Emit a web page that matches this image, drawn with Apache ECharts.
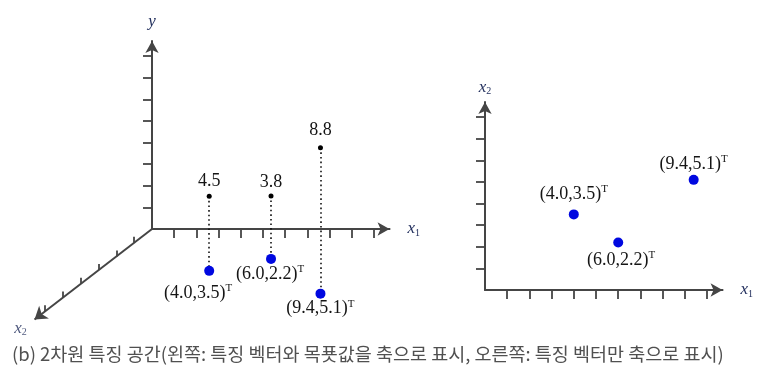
<!DOCTYPE html>
<html>
<head>
<meta charset="utf-8">
<script src="https://cdn.jsdelivr.net/npm/echarts@6/dist/echarts.min.js"></script>
<style>
  html, body { margin: 0; padding: 0; background: #fff; }
  #chart { width: 760px; height: 378px; }
</style>
</head>
<body>
<div id="chart"></div>
<script>
// feature vectors (x1, x2) and target values y
const x1Values = [4.0, 6.0, 9.4]
const x2Values = [3.5, 2.2, 5.1]
const targets = [4.5, 3.8, 8.8]
const pointNames = ['(4.0,3.5)', '(6.0,2.2)', '(9.4,5.1)']

const x1Ticks = [1, 2, 3, 4, 5, 6, 7, 8, 9, 10]
const yTicks = [1, 2, 3, 4, 5, 6, 7, 8]
const x2Ticks = [1, 2, 3, 4, 5, 6]

const caption = '(b) 2차원 특징 공간(왼쪽: 특징 벡터와 목푯값을 축으로 표시, 오른쪽: 특징 벡터만 축으로 표시)'

// pixel size of one axis unit
const UX = 22.2
const UY = 21.6
// oblique projection of the left panel, pixels per unit
const proj = (a, b, t) => [
  (23.83 * a - 10.89 * b) / UX,
  (-1.028 * a - 10.78 * b + 16.58 * t) / UY,
]
// drawn x2 axis: pixels per tick step (right, down)
const X2_STEP = [-17.8, 13.7]
const x2At = (k, up) => [(X2_STEP[0] * k) / UX, (-X2_STEP[1] * k + (up || 0)) / UY]
const X2_END = 6.6

const axisColor = '#454545'
const nameColor = '#23305e'
const textColor = '#151515'
const blue = '#0008e0'
const serif = '"Liberation Serif", "Times New Roman", serif'

// label offsets (px) of each point, kept apart from the data
const leftOffsets = [[-11, 22], [-1, 15], [0, 15]]
const rightOffsets = [[0, -20], [3, 18], [0, -16]]
const targetOffsets = [[0, -15], [0, -14], [0, -17]]

const richPoint = {
  t: { fontFamily: serif, fontSize: 18, color: textColor, lineHeight: 21 },
  s: { fontFamily: serif, fontSize: 11, color: textColor, verticalAlign: 'top', lineHeight: 12 },
}
const richName = {
  i: { fontFamily: serif, fontSize: 17, fontStyle: 'italic', color: nameColor },
  s: { fontFamily: serif, fontSize: 10, color: nameColor, padding: [8, 0, 0, 0] },
}

function makeAxis(grid, max, ticks, name, extra) {
  return Object.assign({
    gridIndex: grid,
    type: 'value',
    min: 0,
    max: max,
    name: name,
    nameLocation: 'end',
    nameTextStyle: { rich: richName },
    axisLine: {
      show: true,
      onZero: false,
      symbol: ['none', 'arrow'],
      symbolSize: [10, 12],
      lineStyle: { color: axisColor, width: 2 },
    },
    axisTick: {
      show: true,
      length: 9,
      customValues: ticks,
      lineStyle: { color: axisColor, width: 1.8 },
    },
    axisLabel: { show: false },
    splitLine: { show: false },
  }, extra)
}

const chart = echarts.init(document.getElementById('chart'))

const leftBlue = x1Values.map((a, i) => ({
  value: proj(a, x2Values[i], 0),
  label: { offset: leftOffsets[i] },
}))
const leftBlack = x1Values.map((a, i) => ({
  value: proj(a, x2Values[i], targets[i]),
  label: { offset: targetOffsets[i] },
}))
const drops = x1Values.map((a, i) => ({
  coords: [proj(a, x2Values[i], targets[i]), proj(a, x2Values[i], 0)],
}))
const x2TickSegs = x2Ticks.map(k => ({ coords: [x2At(k), x2At(k, 6)] }))
const rightBlue = x1Values.map((a, i) => ({
  value: [a, x2Values[i]],
  label: { offset: rightOffsets[i] },
}))

const pointLabel = {
  show: true,
  position: 'inside',
  formatter: p => '{t|' + pointNames[p.dataIndex] + '}{s|T}',
  rich: richPoint,
}

const option = {
  animation: false,
  grid: [
    { left: 152, top: 229 - 8.7 * UY, width: 10.7 * UX, height: 8.7 * UY },
    { left: 485, top: 290 - 8.7 * UY, width: 10.7 * UX, height: 8.7 * UY },
  ],
  xAxis: [
    makeAxis(0, 10.7, x1Ticks, '{i|x}{s|1}', { nameGap: 18 }),
    makeAxis(1, 10.7, x1Ticks, '{i|x}{s|1}', { nameGap: 18 }),
  ],
  yAxis: [
    makeAxis(0, 8.7, yTicks, '{i|y}', { nameGap: 11 }),
    makeAxis(1, 8.7, yTicks, '{i|x}{s|2}', { nameGap: 6 }),
  ],
  graphic: [{
    type: 'text',
    left: 12,
    top: 345,
    style: {
      text: caption,
      font: '18.5px "Noto Sans CJK KR", sans-serif',
      fill: '#505050',
    },
  }],
  series: [
    {
      type: 'lines',
      coordinateSystem: 'cartesian2d',
      xAxisIndex: 0,
      yAxisIndex: 0,
      clip: false,
      silent: true,
      symbol: ['none', 'arrow'],
      symbolSize: [10, 12],
      lineStyle: { color: axisColor, width: 2, opacity: 1 },
      data: [{ coords: [[0, 0], x2At(X2_END)] }],
    },
    {
      type: 'lines',
      coordinateSystem: 'cartesian2d',
      xAxisIndex: 0,
      yAxisIndex: 0,
      clip: false,
      silent: true,
      lineStyle: { color: axisColor, width: 1.8, opacity: 1 },
      data: x2TickSegs,
    },
    {
      type: 'lines',
      coordinateSystem: 'cartesian2d',
      xAxisIndex: 0,
      yAxisIndex: 0,
      clip: false,
      silent: true,
      lineStyle: { color: '#111', width: 1.6, type: [1.6, 3], opacity: 1 },
      data: drops,
    },
    {
      type: 'scatter',
      xAxisIndex: 0,
      yAxisIndex: 0,
      clip: false,
      symbolSize: 5,
      itemStyle: { color: '#000', opacity: 1 },
      label: {
        show: true,
        position: 'inside',
        formatter: p => targets[p.dataIndex].toFixed(1),
        fontFamily: serif,
        fontSize: 18,
        color: textColor,
      },
      data: leftBlack,
    },
    {
      type: 'scatter',
      xAxisIndex: 0,
      yAxisIndex: 0,
      clip: false,
      symbolSize: 10,
      itemStyle: { color: blue, opacity: 1 },
      label: pointLabel,
      data: leftBlue,
    },
    {
      type: 'scatter',
      xAxisIndex: 0,
      yAxisIndex: 0,
      clip: false,
      symbolSize: 0,
      label: {
        show: true,
        position: 'inside',
        offset: [-14, 9],
        formatter: '{i|x}{s|2}',
        rich: richName,
      },
      data: [x2At(X2_END)],
    },
    {
      type: 'scatter',
      xAxisIndex: 1,
      yAxisIndex: 1,
      clip: false,
      symbolSize: 10,
      itemStyle: { color: blue, opacity: 1 },
      label: pointLabel,
      data: rightBlue,
    },
  ],
}

chart.setOption(option)
</script>
</body>
</html>
